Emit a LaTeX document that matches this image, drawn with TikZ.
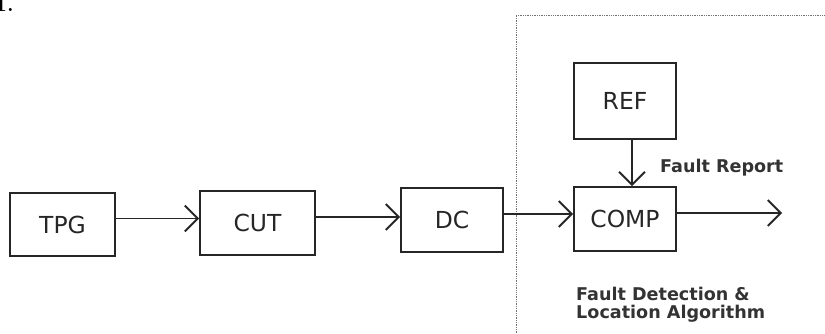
\documentclass[tikz,border=0pt]{standalone}
\usepackage{fontspec}
\newfontfamily\blocfont{DejaVu Sans}
\usetikzlibrary{arrows.meta}
\begin{document}
\begin{tikzpicture}[x=0.03cm,y=-0.03cm,
	bloc/.style={draw=black!85,line width=1.6pt,font=\blocfont\fontsize{20}{24}\selectfont,text=black!85,inner sep=0pt},
	fleche/.style={draw=black!85,line width=1.6pt,-{Straight Barb[length=11pt,width=22pt,line width=1.6pt]}},
	legende/.style={font=\blocfont\bfseries\fontsize{15}{15.3}\selectfont,text=black!80,align=left,inner sep=0pt},
	cadre/.style={draw=black!55,densely dotted,line width=0.5pt}]
	% Dimensions de l'image
	\def\larg{825} \def\haut{333}
	\def\dy{0.18cm}
	\useasboundingbox (0,0) rectangle (\larg,\haut);
	%
	% Numero en haut a gauche
	\node[font=\bfseries\fontsize{18}{18}\selectfont,anchor=base west,inner sep=0pt] (num) at (-5,11) {1.};
	% Cadre pointille
	\draw[cadre] (516,\haut) -- (516,15) -- (\larg,15);
	%
	% Blocs
	\node[bloc,minimum width=3.15cm,minimum height=1.89cm] (tpg) at (62.5,224.5) {TPG};
	\node[bloc,minimum width=3.45cm,minimum height=1.92cm] (cut) at (257.5,223) {CUT};
	\node[bloc,minimum width=3.06cm,minimum height=1.92cm] (dc) at (452,220) {DC};
	\node[bloc,minimum width=3.06cm,minimum height=1.92cm] (comp) at (625,219) {COMP};
	\node[bloc,minimum width=3.06cm,minimum height=2.28cm] (ref) at (625,101) {REF};
	\coordinate (sortie) at (782,213);
	%
	% Fleches
	\draw[fleche] ([yshift=\dy]tpg.east) -- ([yshift=\dy]tpg.east -| cut.west);
	\draw[fleche] ([yshift=\dy]cut.east) -- ([yshift=\dy]cut.east -| dc.west);
	\draw[fleche] ([yshift=\dy]dc.east) -- ([yshift=\dy]dc.east -| comp.west);
	\draw[fleche] ([yshift=\dy]comp.east) -- (sortie);
	\draw[fleche] ([xshift=0.21cm]ref.south) -- ([xshift=0.21cm]comp.north);
	%
	% Legendes
	\node[legende,anchor=west] (rapport) at (660,168) {Fault Report};
	\node[legende,anchor=north west] (algo) at (576,287) {Fault Detection \&\\Location Algorithm};
\end{tikzpicture}
\end{document}
